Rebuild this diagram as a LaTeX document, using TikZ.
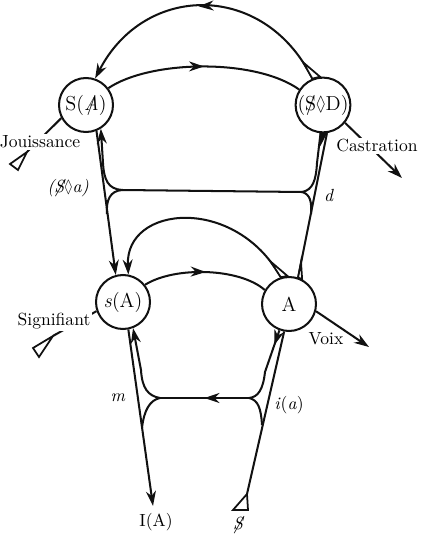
\documentclass[tikz,border=0pt]{standalone}
\usepackage{amsmath}
\usepackage{amssymb}
\usepackage{xcolor}
\usepackage{tikz}
\usetikzlibrary{arrows.meta,decorations.markings}
\definecolor{Ink}{HTML}{111111}
\newcommand{\barS}{\ooalign{S\cr\hidewidth/\hidewidth\cr}}
\newcommand{\barA}{\ooalign{\textit{A}\cr\hidewidth/\hidewidth\cr}}
\newcommand{\poin}{\scalebox{0.7}[1]{$\lozenge$}}

\begin{document}
\begin{tikzpicture}[
  x=0.02cm,y=-0.02cm,
  font=\normalsize,
  wire/.style={draw=Ink,line width=1.15pt},
  flow/.style={wire,-{Stealth[length=3mm,width=2mm]}},
  midflow/.style={wire,postaction={decorate},decoration={markings,
    mark=at position #1 with {\arrow{Stealth[length=3mm,width=2mm]}}}},
  midflow/.default=0.5,
  locus/.style={circle,draw=Ink,line width=1.15pt,fill=white,minimum size=1.08cm,
    inner sep=0pt,font=\fontsize{11.5}{13}\selectfont},
  tail/.style={draw=Ink,line width=1pt,fill=white,line join=miter},
  cut/.style={fill=white,inner sep=1pt}
]
  \useasboundingbox (0,0) rectangle (426,544);

  \node[locus] (SA) at (86,105) {S(\barA)};
  \node[locus] (SD) at (323,105) {(\barS\poin D)};
  \node[locus] (sA) at (123,302) {\textit{s}(A)};
  \node[locus] (A) at (289,304) {A};

  % upper storey
  \draw[flow,midflow=0.52] (SD.112) .. controls (265,-18) and (145,-18) ..
    coordinate[pos=0.06] (tipU) (SA.71);
  \draw[tail] (SD.112) -- (tipU) -- (SD.96) -- cycle;
  \draw[midflow] (SA.37) .. controls (150,60) and (255,58) .. (SD.147);

  \coordinate (jUL) at (122,190);
  \coordinate (jUR) at (302,192);
  \draw[wire] (jUL) -- (jUR);
  \draw[flow] (jUL) .. controls (108,189) and (104,180) .. (103,163) -- (SA.-58);
  \draw[wire] (jUL) .. controls (110,191) and (106,200) .. (107,214);
  \draw[wire] (jUR) .. controls (313,190) and (316,180) .. (317,163) -- (SD.-95);
  \draw[wire] (jUR) .. controls (310,194) and (312,202) .. (311,214);
  \draw[wire] (SD.-82) -- (A.71);
  \draw[tail,fill=Ink] (SD.-95) -- (SD.-84) -- (321,143) -- cycle;
  \draw[tail] (A.71) -- (301,262) -- (A.62) -- cycle;
  \draw[flow] (SA.-68) -- (sA.105);

  % lower storey
  \draw[flow] (A.107) .. controls (235,195) and (125,205) ..
    coordinate[pos=0.07] (tipL) (sA.79);
  \draw[tail] (A.107) -- (tipL) -- (A.93) -- cycle;
  \draw[midflow] (sA.38) .. controls (175,266) and (240,268) .. (A.150);

  \coordinate (jLR) at (249,398);
  \coordinate (jLL) at (160,398);
  \coordinate (mtip) at (153,506);
  \coordinate (dtop) at (247,494);
  \draw[midflow] (jLR) -- (jLL);
  \draw[midflow=0.2] (A.-110) -- (265,372) .. controls (263,390) and (258,397) .. (jLR);
  \draw[wire] (jLR) .. controls (258,400) and (261,408) .. (262,425);
  \draw[flow] (jLL) .. controls (148,396) and (142,388) .. (141,370) -- (sA.-69);
  \draw[wire] (jLL) .. controls (150,400) and (144,410) .. (142,428);
  \draw[flow] (sA.-79) -- (mtip);
  \draw[wire] (A.-100) -- (dtop);
  \draw[tail] (233,510) -- (248,510) -- (dtop) -- cycle;

  % outer vectors
  \draw[wire] (SA.208) -- (27,152);
  \draw[tail] (27,152) -- (10,164) -- (18,170) -- cycle;
  \node[cut] (jou) at (40,142) {Jouissance};
  \draw[flow] (SD.-39) -- (402,178);
  \node[cut] (cas) at (377,146) {Castration};
  \draw[wire] (sA.199) -- (53,336);
  \draw[tail] (53,336) -- (33,348) -- (39,357) -- cycle;
  \node[cut] (sig) at (54,321) {Signifiant};
  \draw[flow] (A.-15) -- (369,347);
  \node (voix) at (326,339) {Voix};

  \node (pa) at (68,188) {\textit{(\barS\poin a)}};
  \node (dl) at (329,195) {\textit{d}};
  \node (ml) at (118,398) {\textit{m}};
  \node (ia) at (289,405) {\textit{i}(\textit{a})};
  \node (IA) at (156,522) {I(A)};
  \node (subj) at (238,525) {\textit{\barS}};
\end{tikzpicture}
\end{document}
